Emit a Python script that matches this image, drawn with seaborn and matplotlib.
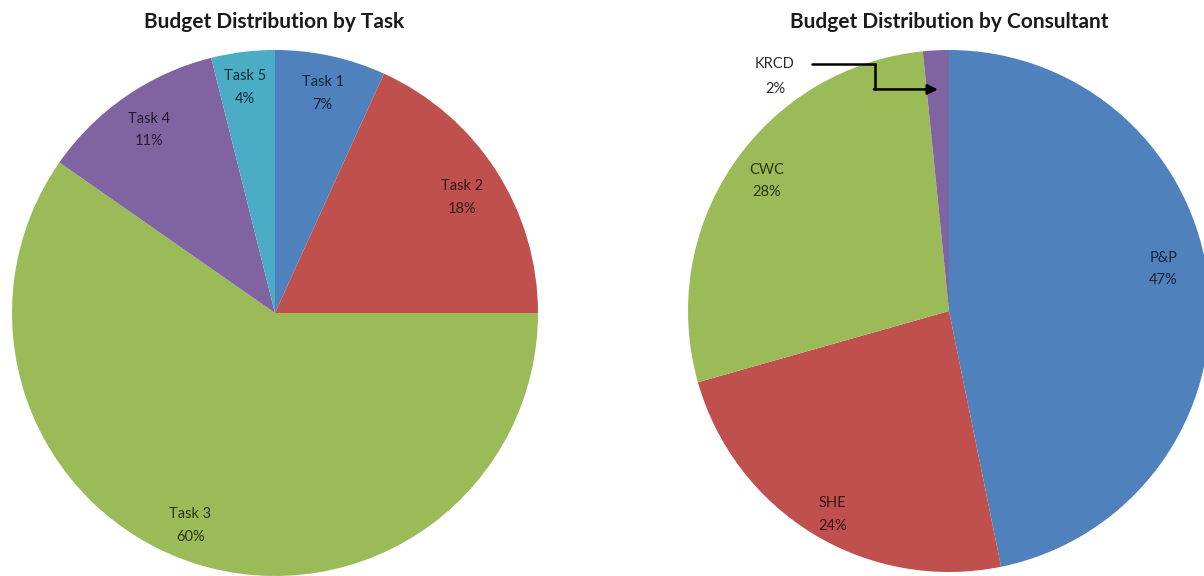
import numpy as np
import matplotlib
matplotlib.use("Agg")
import matplotlib.pyplot as plt
import seaborn as sns

# Budget shares (percent)
task_names = ["Task 1", "Task 2", "Task 3", "Task 4", "Task 5"]
task_values = [6.8, 18.2, 59.7, 11.4, 3.9]

consultant_names = ["P&P", "SHE", "CWC", "KRCD"]
consultant_values = [46.8, 23.8, 27.8, 1.6]

title_left = "Budget Distribution by Task"
title_right = "Budget Distribution by Consultant"

sns.set_style("white")
plt.rcParams["font.family"] = ["Lato", "DejaVu Sans"]

office = sns.color_palette(["#4F81BD", "#C0504D", "#9BBB59", "#8064A2", "#4BACC6"])
task_colors = [office[0], office[1], office[2], office[3], office[4]]
consultant_colors = [office[0], office[1], office[2], office[3]]

W, H = 1204, 576
fig = plt.figure(figsize=(W / 100, H / 100), dpi=100)


def pie_axes(cx, cy, r):
    """Axes whose data range [-1, 1] maps onto a circle of radius r px at (cx, cy)."""
    return fig.add_axes([(cx - r) / W, (H - cy - r) / H, 2 * r / W, 2 * r / H])


def mid_angle(values, i, shift_deg=0.0):
    cum = np.cumsum([0] + list(values))
    frac = (cum[i] + cum[i + 1]) / 2 / cum[-1]
    return np.deg2rad(90 - 360 * frac - shift_deg)


def dark(c, f=0.28):
    return tuple(f * x for x in c)


def draw_pie(ax, names, values, colors, placement, skip=()):
    ax.pie(values, colors=colors, startangle=90, counterclock=False,
           radius=1.0, wedgeprops=dict(linewidth=0))
    ax.set_xlim(-1, 1)
    ax.set_ylim(-1, 1)
    ax.set_aspect("equal")
    ax.axis("off")
    for i, (n, v) in enumerate(zip(names, values)):
        if i in skip:
            continue
        d, shift = placement[i]
        a = mid_angle(values, i, shift)
        ax.text(d * np.cos(a), d * np.sin(a), f"{n}\n{round(v)}%",
                ha="center", va="center", fontsize=10.5, color=dark(colors[i]),
                linespacing=1.75)


# (radial distance, angular shift in degrees) for each label
task_place = [(0.854, 0), (0.837, 1.1), (0.870, 4.3), (0.845, 0), (0.865, -0.6)]
cons_place = [(0.836, -5.4), (0.898, -1.6), (0.858, 1.4), (0.85, 0)]

ax1 = pie_axes(275, 313, 263)
draw_pie(ax1, task_names, task_values, task_colors, task_place)

ax2 = pie_axes(949, 311, 261)
draw_pie(ax2, consultant_names, consultant_values, consultant_colors,
         cons_place, skip=(3,))

# Small KRCD slice: label outside with an elbow arrow
k = 3
a = mid_angle(consultant_values, k)
tip = (0.85 * np.cos(a), 0.85 * np.sin(a))
lab_x, lab_y = -0.667, 0.946
ax2.text(lab_x, lab_y, consultant_names[k], ha="center", va="center",
         fontsize=10.5, color="#2a2a2a", clip_on=False)
ax2.text(lab_x, lab_y - 0.096, f"{round(consultant_values[k])}%", ha="center",
         va="center", fontsize=10.5, color="#2a2a2a", clip_on=False)
start_x = -0.525
elbow_x = (start_x + tip[0]) / 2
ax2.plot([start_x, elbow_x, elbow_x], [lab_y, lab_y, tip[1]], color="black",
         lw=1.8, solid_joinstyle="miter", clip_on=False)
ax2.annotate("", xy=tip, xytext=(elbow_x - 0.004, tip[1]),
             arrowprops=dict(arrowstyle="-|>,head_length=0.6,head_width=0.3",
                             color="black", lw=1.8, shrinkA=0, shrinkB=0))

fig.text(274 / W, 1 - 22 / H, title_left, ha="center", va="center",
         fontsize=15, fontweight="bold", color="#1a1a1a")
fig.text(949 / W, 1 - 22 / H, title_right, ha="center", va="center",
         fontsize=15, fontweight="bold", color="#1a1a1a")

fig.savefig("out.png", dpi=100, facecolor="white")
